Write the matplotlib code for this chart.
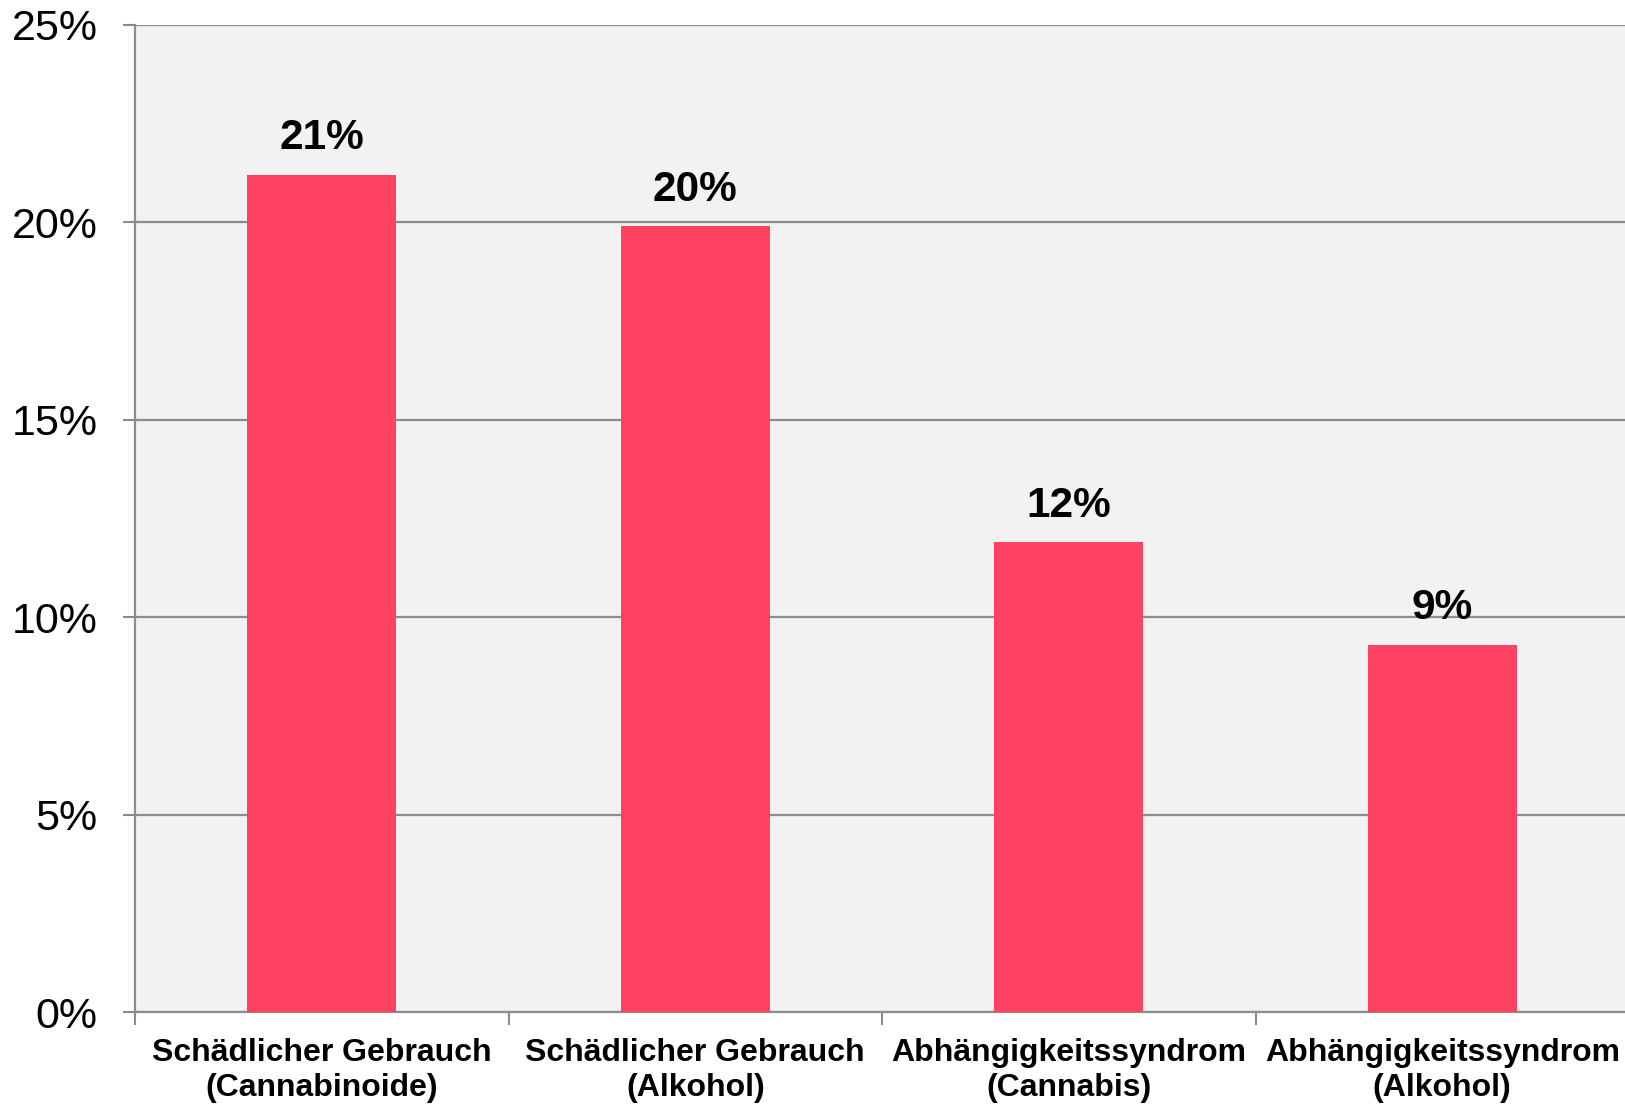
import matplotlib
matplotlib.use("Agg")
import matplotlib.pyplot as plt
from matplotlib.ticker import FuncFormatter, MultipleLocator, FixedLocator

categories = ["Schädlicher Gebrauch\n(Cannabinoide)",
              "Schädlicher Gebrauch\n(Alkohol)",
              "Abhängigkeitssyndrom\n(Cannabis)",
              "Abhängigkeitssyndrom\n(Alkohol)"]
values = [21.2, 19.9, 11.9, 9.3]
value_labels = ["21%", "20%", "12%", "9%"]

plt.rcParams['font.family'] = ['Liberation Sans', 'DejaVu Sans']

fig = plt.figure(figsize=(16.25, 11.05), dpi=100)
ax = fig.add_axes([135/1625, 93/1105, 1494/1625, 987/1105])
ax.set_facecolor('#f2f2f2')

x = list(range(len(categories)))
ax.bar(x, values, width=0.4, color='#ff4261', zorder=3)
for xi, v, lab in zip(x, values, value_labels):
    ax.text(xi, v + 0.42, lab, ha='center', va='bottom', fontsize=30.5,
            fontweight='bold', color='black', zorder=4)

ax.set_xlim(-0.5, 3.5)
ax.set_ylim(0, 25)
ax.yaxis.set_major_locator(MultipleLocator(5))
ax.yaxis.set_major_formatter(FuncFormatter(lambda v, p: f"{int(v)}%"))
ax.grid(axis='y', color='#8c8c8c', linewidth=1.6, zorder=1)
ax.set_axisbelow(True)

ax.set_xticks(x)
ax.set_xticklabels(categories, fontsize=23, fontweight='bold', linespacing=1.2)
ax.xaxis.set_minor_locator(FixedLocator([-0.5, 0.5, 1.5, 2.5]))
ax.tick_params(axis='x', which='major', length=0, pad=19)
ax.tick_params(axis='x', which='minor', length=9, width=1.5, color='#8c8c8c', direction='out')
ax.tick_params(axis='y', which='major', length=9, width=1.5, color='#8c8c8c',
               labelsize=31, pad=18)

for s in ['top', 'right']:
    ax.spines[s].set_visible(False)
ax.spines['left'].set_color('#8c8c8c')
ax.spines['left'].set_linewidth(1.6)
ax.spines['bottom'].set_color('#8c8c8c')
ax.spines['bottom'].set_linewidth(1.6)

fig.savefig('out.png', dpi=100)
